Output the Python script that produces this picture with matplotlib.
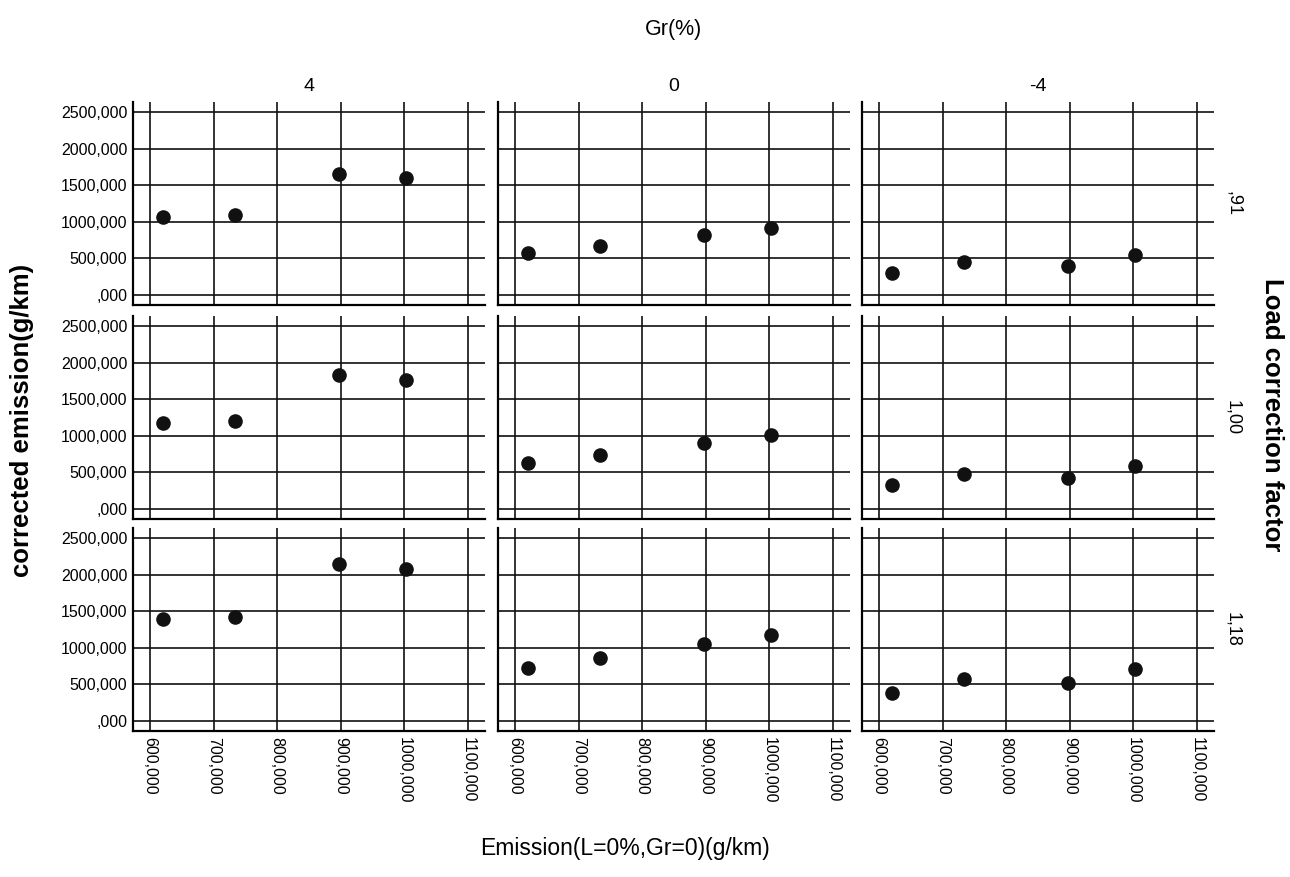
import numpy as np
import matplotlib
matplotlib.use('Agg')
import matplotlib.pyplot as plt

plt.rcParams['font.family'] = ['Liberation Sans', 'DejaVu Sans']

# facet labels
grades = ['4', '0', '-4']
factors = [',91', '1,00', '1,18']

# x values (same in every panel)
emission = [620, 733, 897, 1003]

# corrected emission, rows = load factor, cols = grade
y_091_g4 = [1067, 1094, 1649, 1594]
y_091_g0 = [568, 668, 818, 918]
y_091_gm4 = [304, 445, 399, 545]
y_100_g4 = [1181, 1208, 1831, 1759]
y_100_g0 = [623, 732, 895, 1004]
y_100_gm4 = [323, 473, 422, 590]
y_118_g4 = [1395, 1422, 2146, 2074]
y_118_g0 = [718, 858, 1050, 1177]
y_118_gm4 = [386, 572, 514, 704]

panels = [[y_091_g4, y_091_g0, y_091_gm4],
          [y_100_g4, y_100_g0, y_100_gm4],
          [y_118_g4, y_118_g0, y_118_gm4]]

xticks = [600, 700, 800, 900, 1000, 1100]
yticks = [0, 500, 1000, 1500, 2000, 2500]

def fmt(v):
    s = '%.3f' % v
    s = s.replace('.', ',')
    if s.startswith('0,'):
        s = s[1:]
    return s

W, H = 1290, 877
fig = plt.figure(figsize=(W / 100, H / 100), dpi=100)

lefts = [133, 498, 862]
tops = [102, 316, 528]
pw, ph = 352, 203

for r in range(3):
    for c in range(3):
        ax = fig.add_axes([lefts[c] / W, 1 - (tops[r] + ph) / H, pw / W, ph / H])
        ax.scatter(emission, panels[r][c], s=90, color='#111111', zorder=3)
        ax.set_xlim(573, 1127)
        ax.set_ylim(-140, 2640)
        ax.set_xticks(xticks)
        ax.set_yticks(yticks)
        ax.grid(True, color='#111111', linewidth=1.2)
        ax.set_axisbelow(True)
        for s in ['top', 'right']:
            ax.spines[s].set_visible(False)
        ax.spines['left'].set_linewidth(1.6)
        ax.spines['bottom'].set_linewidth(1.6)
        ax.tick_params(length=0, pad=4)
        if c == 0:
            ax.set_yticklabels([fmt(v) for v in yticks], fontsize=11.5)
        else:
            ax.set_yticklabels([])
        if r == 2:
            ax.set_xticklabels([fmt(v) for v in xticks], fontsize=11.5, rotation=270)
        else:
            ax.set_xticklabels([])
        if r == 0:
            ax.set_title(grades[c], fontsize=14, pad=8,
                         family=['Liberation Sans Narrow', 'Liberation Sans'])
        if c == 2:
            ax.text(1.03, 0.5, factors[r], transform=ax.transAxes, rotation=270,
                    fontsize=13, va='center', ha='left')

fig.text(673 / W, 1 - 30 / H, 'Gr(%)', fontsize=15.5, ha='center', va='center')
fig.text(22 / W, 1 - 420 / H, 'corrected emission(g/km)', fontsize=18.5,
         fontweight='bold', rotation=90, ha='center', va='center')
fig.text(1272 / W, 1 - 415 / H, 'Load correction factor', fontsize=18.5,
         fontweight='bold', rotation=270, ha='center', va='center')
fig.text(625 / W, 1 - 848 / H, 'Emission(L=0%,Gr=0)(g/km)', fontsize=16.5,
         ha='center', va='center')

fig.savefig('out.png', dpi=100)
